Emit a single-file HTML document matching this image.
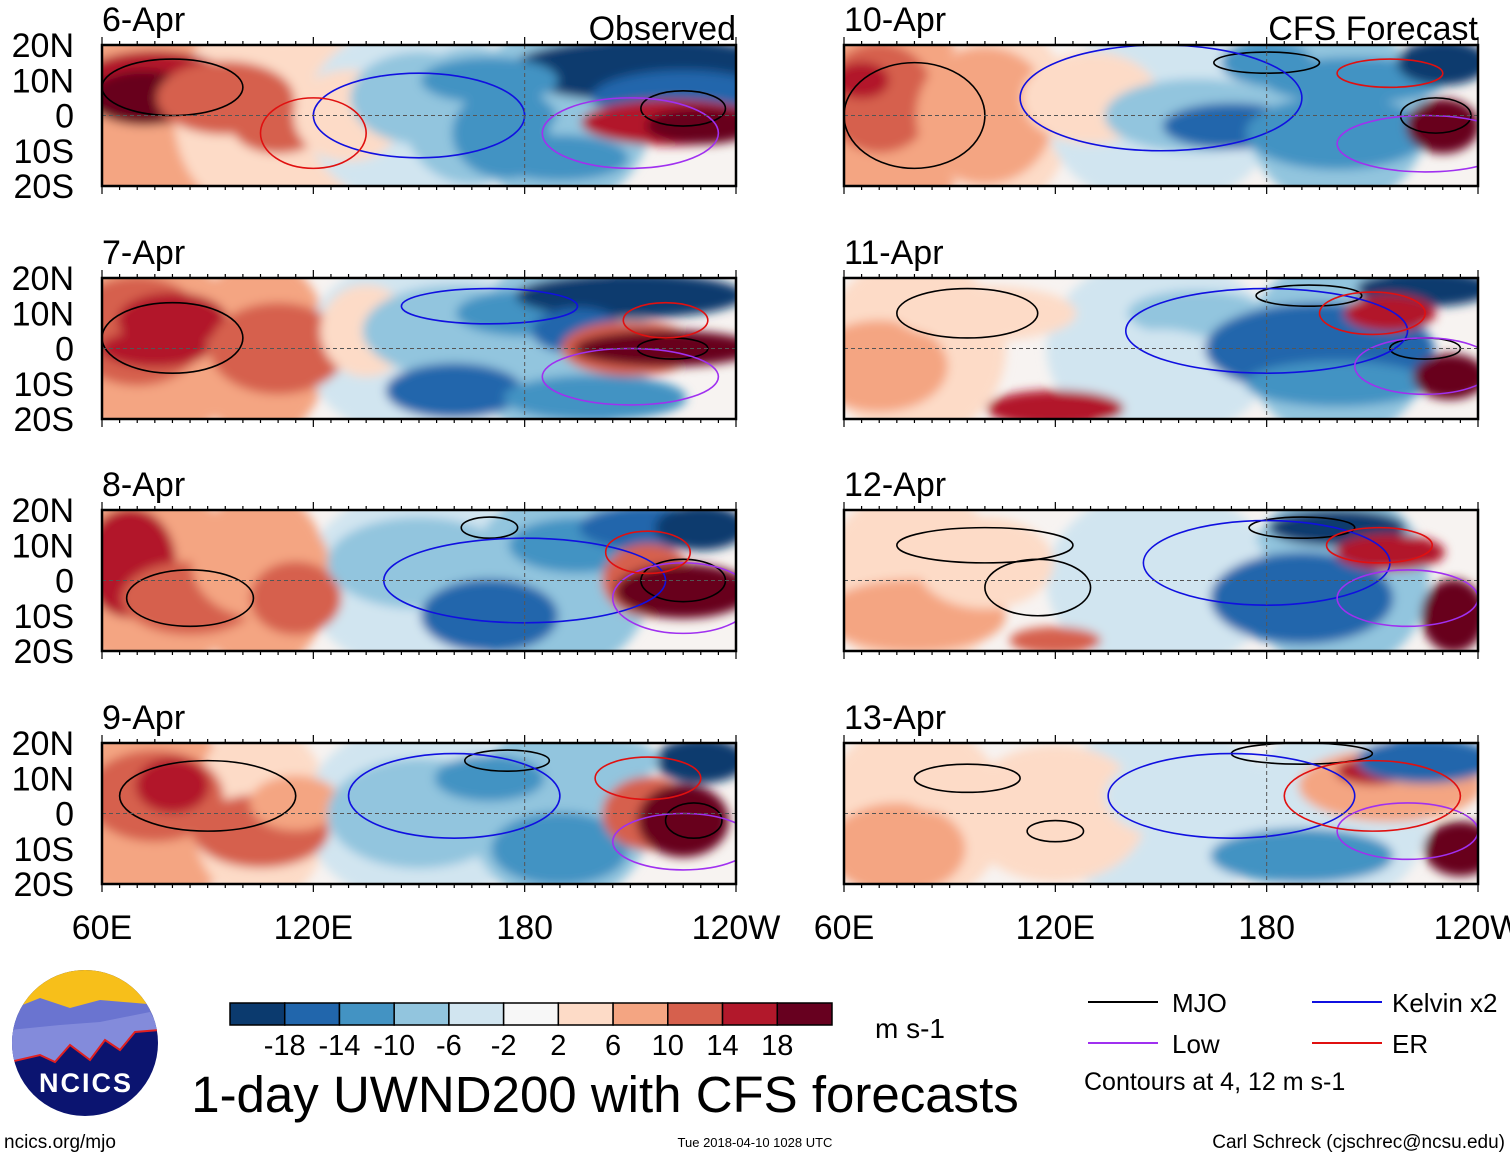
<!DOCTYPE html>
<html><head><meta charset="utf-8"><style>
body{margin:0;background:#fff;}
svg{display:block;font-family:"Liberation Sans",sans-serif;}
</style></head><body>
<svg id="chart" width="1510" height="1158" viewBox="0 0 1510 1158">
<defs><filter id="blur" x="-20%" y="-20%" width="140%" height="140%"><feGaussianBlur stdDeviation="5"/></filter></defs>
<g id="panels"></g>
<g id="bottom">
 <g>
  <clipPath id="lc"><circle cx="85" cy="1043" r="73"/></clipPath>
  <g clip-path="url(#lc)">
   <rect x="10" y="968" width="150" height="150" fill="#0b1470"/>
   <rect x="10" y="968" width="150" height="45" fill="#f7bf1a"/>
   <path d="M10 1010 L40 998 L70 1008 L100 1000 L160 1005 L160 1030 L135 1032 L120 1050 L105 1040 L90 1060 L70 1045 L55 1062 L40 1055 L10 1062Z" fill="#6a74d0"/>
   <path d="M10 1030 L60 1025 L100 1022 L150 1012 L160 1030 L135 1032 L120 1050 L105 1040 L90 1060 L70 1045 L55 1062 L40 1055 L10 1062Z" fill="#8f96e0" opacity="0.7"/>
   <path d="M10 1062 L40 1055 L55 1062 L70 1045 L90 1060 L105 1040 L120 1050 L135 1032 L160 1030" fill="none" stroke="#e02020" stroke-width="2"/>
  </g>
  <text x="86" y="1092" font-size="27" font-weight="bold" fill="#fff" text-anchor="middle" letter-spacing="2">NCICS</text>
 </g>
 <text x="4" y="1148" font-size="19">ncics.org/mjo</text>
 <g id="cbar"></g>
 <text x="875" y="1038" font-size="28">m s-1</text>
 <text x="605" y="1112" font-size="51" text-anchor="middle">1-day UWND200 with CFS forecasts</text>
 <text x="755" y="1147" font-size="13" text-anchor="middle">Tue 2018-04-10 1028 UTC</text>
 <text x="1505" y="1148" font-size="19" text-anchor="end">Carl Schreck (cjschrec@ncsu.edu)</text>
 <g>
  <g><line x1="1088" y1="1002" x2="1158" y2="1002" stroke="#000" stroke-width="2"/><text x="1172" y="1012" font-size="26">MJO</text></g>
  <g><line x1="1312" y1="1002" x2="1382" y2="1002" stroke="#1010e0" stroke-width="2"/><text x="1392" y="1012" font-size="26">Kelvin x2</text></g>
  <g><line x1="1088" y1="1043" x2="1158" y2="1043" stroke="#a030f0" stroke-width="2"/><text x="1172" y="1053" font-size="26">Low</text></g>
  <g><line x1="1312" y1="1043" x2="1382" y2="1043" stroke="#e01010" stroke-width="2"/><text x="1392" y="1053" font-size="26">ER</text></g>
  <text x="1084" y="1090" font-size="25">Contours at 4, 12 m s-1</text>
 </g>
</g>
</svg>
<script>
const colors=["#0b3a6e","#2166ac","#4393c3","#92c5de","#d1e5f0","#f7f7f7","#fddbc7","#f4a582","#d6604d","#b2182b","#67001f"];
const cbarLabels=["-18","-14","-10","-6","-2","2","6","10","14","18"];
const dates=["6-Apr","7-Apr","8-Apr","9-Apr","10-Apr","11-Apr","12-Apr","13-Apr"];
const lonTicks=[60,120,180,240];
const lonLabels=["60E","120E","180","120W"];
const latTicks=[20,10,0,-10,-20];
const latLabels=["20N","10N","0","10S","20S"];
// blobs: [lon, lat, rxDeg, ryDeg, colorIndex]
const blobs0=[[75,0,20,20,7],[100,0,15,20,6],[120,0,12,20,6],[150,0,25,20,4],[190,0,20,20,3],[75,8,18,8,9],[72,5,12,6,10],[95,5,15,8,8],[110,-3,10,6,8],[130,0,12,10,6],[150,5,15,10,3],[165,0,15,15,3],[175,-5,12,10,2],[215,13,30,7,0],[225,5,20,6,1],[200,-5,10,6,3],[222,-2,20,5,9],[230,-3,12,4,10],[170,10,15,5,2],[190,-12,15,5,2]];
const blobs1=[[75,0,20,20,7],[105,0,15,20,7],[150,0,25,20,4],[190,0,20,20,3],[70,5,15,12,8],[80,8,12,6,9],[75,0,12,4,9],[110,0,15,10,8],[135,5,10,10,6],[160,5,20,10,3],[180,10,15,5,2],[210,15,25,5,0],[195,5,10,5,1],[210,0,15,6,8],[220,0,20,4,10],[160,-12,15,6,1],[200,-14,20,5,2]];
const blobs2=[[75,0,20,20,7],[105,0,15,20,7],[150,0,25,20,4],[190,0,20,20,3],[68,5,10,12,9],[85,-5,15,8,8],[105,5,15,12,7],[115,-5,10,8,8],[150,5,20,10,3],[170,-10,15,8,1],[195,10,15,6,2],[215,15,15,5,1],[215,0,10,8,8],[225,-3,15,6,10],[230,15,10,5,0]];
const blobs3=[[75,0,20,20,7],[105,0,15,20,6],[150,0,25,20,4],[190,0,20,20,3],[75,5,15,10,8],[80,8,8,6,9],[105,-5,15,8,8],[115,3,10,6,7],[150,0,20,12,3],[170,10,12,5,2],[190,-10,15,8,2],[230,15,10,5,0],[205,15,10,5,3],[215,0,10,8,8],[225,-2,10,8,10]];
const blobs4=[[75,0,20,20,7],[105,0,15,20,6],[150,0,25,20,4],[200,0,20,20,3],[70,5,12,12,8],[65,10,6,4,9],[100,0,15,15,7],[130,5,15,10,6],[160,0,20,8,3],[170,-3,15,5,1],[200,-5,20,8,2],[205,10,20,5,2],[230,15,10,5,0],[230,-3,8,6,10],[180,15,10,5,2]];
const blobs5=[[80,0,20,20,6],[150,0,25,20,4],[200,0,20,20,3],[70,-5,15,10,7],[100,10,20,6,6],[120,-17,15,4,9],[160,10,15,5,3],[150,-5,15,8,4],[195,0,25,10,1],[200,-10,20,5,2],[225,17,15,4,0],[215,10,10,4,9],[232,-8,8,5,10]];
const blobs6=[[80,0,20,20,6],[150,0,25,20,4],[200,0,20,20,3],[80,-10,20,8,7],[100,5,15,10,6],[160,5,15,10,4],[190,-5,20,10,1],[200,15,15,4,0],[215,8,12,4,9],[233,-10,7,8,10],[120,-17,10,3,8]];
const blobs7=[[80,0,20,20,6],[150,0,25,20,4],[200,0,20,20,4],[75,-10,15,10,7],[90,8,12,6,6],[120,0,20,15,6],[160,5,20,10,4],[190,-12,20,6,2],[215,8,20,8,7],[210,12,8,3,9],[235,-10,8,6,10],[225,15,15,5,1]];
const allBlobs=[blobs0,blobs1,blobs2,blobs3,blobs4,blobs5,blobs6,blobs7];
// contours: [lon, lat, rxDeg, ryDeg, type] type 0 MJO,1 Kelvin,2 Low,3 ER
const cont0=[[80,8,20,8,0],[225,2,12,5,0],[150,0,30,12,1],[210,-5,25,10,2],[120,-5,15,10,3]];
const cont1=[[80,3,20,10,0],[222,0,10,3,0],[170,12,25,5,1],[210,-8,25,8,2],[220,8,12,5,3]];
const cont2=[[85,-5,18,8,0],[170,15,8,3,0],[225,0,12,6,0],[180,0,40,12,1],[225,-5,20,10,2],[215,8,12,6,3]];
const cont3=[[90,5,25,10,0],[175,15,12,3,0],[228,-2,8,5,0],[160,5,30,12,1],[225,-8,20,8,2],[215,10,15,6,3]];
const cont4=[[80,0,20,15,0],[180,15,15,3,0],[228,0,10,5,0],[150,5,40,15,1],[225,-8,25,8,2],[215,12,15,4,3]];
const cont5=[[95,10,20,7,0],[192,15,15,3,0],[225,0,10,3,0],[180,5,40,12,1],[225,-5,20,8,2],[210,10,15,6,3]];
const cont6=[[100,10,25,5,0],[190,15,15,3,0],[115,-2,15,8,0],[180,5,35,12,1],[220,-5,20,8,2],[212,10,15,5,3]];
const cont7=[[95,10,15,4,0],[190,17,20,3,0],[120,-5,8,3,0],[170,5,35,12,1],[220,-5,20,8,2],[210,5,25,10,3]];
const allCont=[cont0,cont1,cont2,cont3,cont4,cont5,cont6,cont7];
const contColors=["#000","#1010e0","#a030f0","#e01010"];

const NS="http://www.w3.org/2000/svg";
function mk(t,a,p){const e=document.createElementNS(NS,t);for(const k in a)e.setAttribute(k,a[k]);p.appendChild(e);return e;}
const PW=634,PH=141,lefts=[102,844],tops=[45,278,510,743];
const panels=document.getElementById('panels');
for(let i=0;i<8;i++){
  const px=lefts[Math.floor(i/4)],py=tops[i%4];
  const xs=lon=>px+(lon-60)/180*PW;
  const ys=lat=>py+(20-lat)/40*PH;
  const g=mk('g',{},panels);
  
  
  const cp=mk('clipPath',{id:'cp'+i},g);
  mk('rect',{x:px,y:py,width:PW,height:PH},cp);
  const inner=mk('g',{'clip-path':'url(#cp'+i+')'},g);
  mk('rect',{x:px,y:py,width:PW,height:PH,fill:'#f7f3f1'},inner);
  const bg=mk('g',{filter:'url(#blur)'},inner);
  allBlobs[i].forEach(b=>{
    const e=mk('ellipse',{cx:xs(b[0]),cy:ys(b[1]),rx:b[2]*1.3/180*PW,ry:b[3]*1.3/40*PH,fill:colors[b[4]]},bg);
    
    
  });
  allCont[i].forEach(c=>{
    const e=mk('ellipse',{cx:xs(c[0]),cy:ys(c[1]),rx:c[2]/180*PW,ry:c[3]/40*PH,fill:'none',stroke:contColors[c[4]],'stroke-width':1.6},inner);
    
    
  });
  mk('line',{x1:px,y1:ys(0),x2:px+PW,y2:ys(0),stroke:'#555','stroke-dasharray':'4 3','stroke-width':1},g);
  mk('line',{x1:xs(180),y1:py,x2:xs(180),y2:py+PH,stroke:'#555','stroke-dasharray':'4 3','stroke-width':1},g);
  mk('rect',{x:px,y:py,width:PW,height:PH,fill:'none',stroke:'#000','stroke-width':2.5},g);
  for(let l=60;l<=240;l+=5){const L=(l%60==0)?8:4;mk('line',{x1:xs(l),y1:py,x2:xs(l),y2:py-L,stroke:'#000','stroke-width':1.2},g);mk('line',{x1:xs(l),y1:py+PH,x2:xs(l),y2:py+PH+L,stroke:'#000','stroke-width':1.2},g);}
  const t=mk('text',{x:px,y:py-14,'font-size':34},g);t.textContent=dates[i];
  
  if(i%4==0){const tt=mk('text',{x:px+PW,y:py-5,'font-size':34,'text-anchor':'end'},g);tt.textContent=i==0?'Observed':'CFS Forecast';
    }
  if(i<4){latTicks.forEach((lt,k)=>{const a=mk('text',{x:74,y:ys(lt)+12,'font-size':34,'text-anchor':'end'},g);a.textContent=latLabels[k];
    });}
  if(i%4==3){lonTicks.forEach((lt,k)=>{const a=mk('text',{x:xs(lt),y:py+PH+55,'font-size':34,'text-anchor':'middle'},g);a.textContent=lonLabels[k];
    });}
}
const cb=document.getElementById('cbar');
const bw=602/colors.length;
colors.forEach((c,k)=>{const r=mk('rect',{x:230+k*bw,y:1003,width:bw,height:22,fill:c,stroke:'#000','stroke-width':1.5},cb);
  });
cbarLabels.forEach((l,k)=>{const t=mk('text',{x:230+(k+1)*bw,y:1055,'font-size':29,'text-anchor':'middle'},cb);t.textContent=l;
  });
</script>
</body></html>
